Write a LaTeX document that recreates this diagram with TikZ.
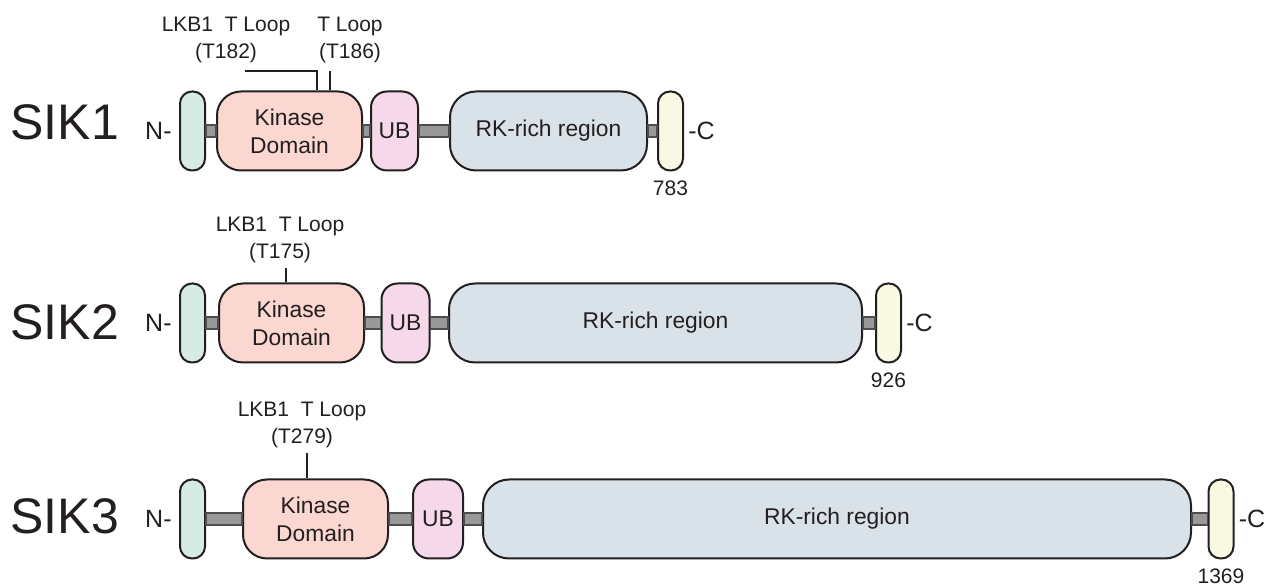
\documentclass[tikz,border=0pt]{standalone}
\usepackage{fontspec}
\setmainfont{Liberation Sans}
\usetikzlibrary{positioning}
\definecolor{ink}{HTML}{231F20}
\definecolor{nteal}{HTML}{D6EBE4}
\definecolor{kinpink}{HTML}{FAD7D0}
\definecolor{ubpink}{HTML}{F6D8EB}
\definecolor{rkblue}{HTML}{D9E2E8}
\definecolor{ccream}{HTML}{F9F9E3}
\definecolor{bargray}{HTML}{999999}
\definecolor{barline}{HTML}{4D4D4D}

\begin{document}
\begin{tikzpicture}[x=0.5pt, y=-0.5pt,
  dom/.style={draw=ink, line width=1pt, minimum height=39.5pt, inner sep=0pt, align=center,
              font=\fontsize{11.4}{14}\selectfont, text=ink},
  nt/.style={dom, fill=nteal, minimum width=12.5pt, rounded corners=6pt},
  kd/.style={dom, fill=kinpink, minimum width=72.5pt, rounded corners=12pt},
  ub/.style={dom, fill=ubpink, minimum width=24pt, rounded corners=8pt},
  rk/.style={dom, fill=rkblue, rounded corners=13pt},
  ct/.style={dom, fill=ccream, minimum width=12.5pt, rounded corners=6pt},
  lnk/.style={draw=barline, fill=bargray, line width=0.6pt},
  site/.style={draw=ink, line width=0.8pt},
  lbl/.style={font=\fontsize{10.5}{13.5}\selectfont, text=ink, align=center, inner sep=1pt},
  term/.style={font=\fontsize{12.5}{15}\selectfont, text=ink, inner sep=1pt},
  prot/.style={font=\fontsize{25}{30}\selectfont, text=ink, inner sep=0pt, anchor=west}]
  \useasboundingbox (0,0) rectangle (1266,587);
  % SIK1
  \node[nt] (n1) at (192.5,131) {};
  \node[kd] (k1) at (289.5,131) {Kinase\\Domain};
  \node[ub, minimum width=23.5pt] (u1) at (394.5,131) {UB};
  \node[rk, minimum width=98.5pt] (r1) at (548.5,131) {RK-rich region};
  \node[ct] (c1) at (670.5,131) {};
  % SIK2
  \node[nt] (n2) at (192.5,323) {};
  \node[kd] (k2) at (291.5,323) {Kinase\\Domain};
  \node[ub] (u2) at (405.5,323) {UB};
  \node[rk, minimum width=206.5pt] (r2) at (655.5,323) {RK-rich region};
  \node[ct] (c2) at (888.5,323) {};
  % SIK3
  \node[nt] (n3) at (192.5,519) {};
  \node[kd] (k3) at (315.5,519) {Kinase\\Domain};
  \node[ub, minimum width=25pt] (u3) at (438,519) {UB};
  \node[rk, minimum width=354pt] (r3) at (837,519) {RK-rich region};
  \node[ct] (c3) at (1221,519) {};
  % linkers
  \foreach \from/\to in {n1/k1, k1/u1, u1/r1, r1/c1, n2/k2, k2/u2, u2/r2, r2/c2,
                         n3/k3, k3/u3, u3/r3, r3/c3}
    \draw[lnk] ([yshift=3pt]\from.east) rectangle ([yshift=-3pt]\to.west);
  % termini and lengths
  \foreach \i/\len in {1/783, 2/926, 3/1369} {
    \node[term, left=2.5pt of n\i] (nl\i) {N-};
    \node[term, right=1pt of c\i] (cl\i) {-C};
    \node[lbl, below=3.5pt of c\i] (len\i) {\len};
  }
  % protein names
  \node[prot] (sik1) at (10,122) {SIK1};
  \node[prot] (sik2) at (10,322) {SIK2};
  \node[prot] (sik3) at (10,516) {SIK3};
  % phospho sites
  \node[lbl] (s1a) at (226,40) {LKB1~~T Loop\\(T182)};
  \node[lbl] (s1b) at (350,40) {T Loop\\(T186)};
  \node[lbl] (s2) at (280,240) {LKB1~~T Loop\\(T175)};
  \node[lbl] (s3) at (302,425) {LKB1~~T Loop\\(T279)};
  \coordinate (j1) at (245,71);
  \coordinate (j1a) at (317,71);
  \coordinate (j1b) at (330,71);
  \coordinate (j2) at (286,268);
  \coordinate (j3) at (307,453);
  \draw[site] (j1) -- (j1a) -- (j1a |- k1.north);
  \draw[site] (j1b) -- (j1b |- k1.north);
  \draw[site] (j2) -- (j2 |- k2.north);
  \draw[site] (j3) -- (j3 |- k3.north);
\end{tikzpicture}
\end{document}
